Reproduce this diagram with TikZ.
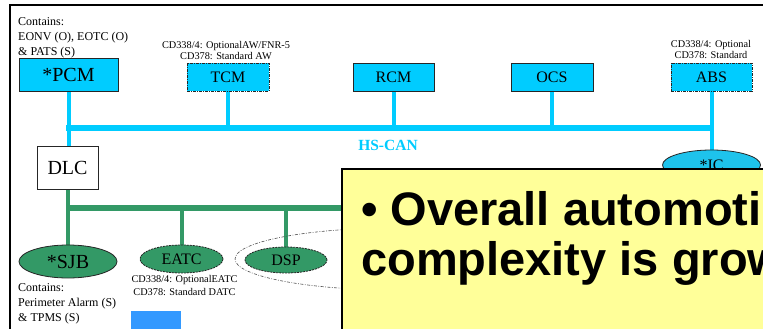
\documentclass[tikz,border=0pt]{standalone}
\usepackage{fontspec}
\setmainfont{Liberation Serif}
\newfontfamily\notefont{Liberation Sans}
\usetikzlibrary{shapes.geometric}
\pgfdeclarelayer{wires}
\pgfsetlayers{wires,main}

\definecolor{ecucyan}{HTML}{00CCFF}
\definecolor{iccyan}{HTML}{1EC3EC}
\definecolor{ecugreen}{HTML}{339966}
\definecolor{noteyellow}{HTML}{FFFF99}
\definecolor{blockblue}{HTML}{3399FF}

\tikzset{
  ecu/.style={draw=black!85, line width=0.8pt, fill=ecucyan, inner sep=0pt,
    font=\fontsize{16}{19}\selectfont},
  optbox/.style={dash pattern=on 3pt off 1pt on 1pt off 1pt},
  gecu/.style={ellipse, draw=black!85, line width=0.8pt, fill=ecugreen, inner sep=0pt,
    font=\fontsize{16}{19}\selectfont},
  optoval/.style={dash pattern=on 2pt off 1pt},
  hsbus/.style={draw=ecucyan, line width=5.5pt},
  hsstub/.style={draw=ecucyan, line width=4pt},
  msbus/.style={draw=ecugreen, line width=5.5pt},
  msstub/.style={draw=ecugreen, line width=4pt},
  contains/.style={font=\fontsize{12}{14}\selectfont, anchor=base west, inner sep=0pt},
  cdnote/.style={font=\fontsize{10.3}{12}\selectfont, anchor=base, inner sep=0pt},
  bigline/.style={font=\notefont\bfseries\fontsize{47}{51}\selectfont, anchor=base west, inner sep=0pt},
}

\begin{document}
\begin{tikzpicture}[x=1pt,y=-1pt]
\useasboundingbox (0,0) rectangle (763,329);
\clip (0,0) rectangle (763,329);

% high-speed CAN modules
\node[ecu, minimum width=99pt, minimum height=33pt, font=\fontsize{20}{24}\selectfont] (pcm) at (68.5,74.5) {*PCM};
\node[ecu, optbox, minimum width=82pt, minimum height=28pt] (tcm) at (228,77) {TCM};
\node[ecu, minimum width=81pt, minimum height=28pt] (rcm) at (393.5,77) {RCM};
\node[ecu, minimum width=82pt, minimum height=28pt] (ocs) at (552,77) {OCS};
\node[ecu, optbox, minimum width=81pt, minimum height=28pt] (abs) at (711.5,77) {ABS};

% module notes
\node[contains] (pcmc1) at (18,26) {Contains:};
\node[contains] (pcmc2) at (18,41) {EONV (O), EOTC (O)};
\node[contains] (pcmc3) at (18,55.5) {\& PATS (S)};
\node[cdnote] (tcmn1) at (226,48.5) {CD338/4: OptionalAW/FNR-5};
\node[cdnote] (tcmn2) at (226,59.5) {CD378: Standard AW};
\node[cdnote] (absn1) at (711,48) {CD338/4: Optional};
\node[cdnote] (absn2) at (711,59) {CD378: Standard};

% diagnostic connector
\node[draw=black!85, line width=0.8pt, fill=white, inner sep=0pt, minimum width=61pt, minimum height=43pt,
  font=\fontsize{20}{24}\selectfont] (dlc) at (67.5,167.5) {DLC};

\node[font=\fontsize{15.5}{18}\selectfont\bfseries, text=ecucyan, inner sep=0pt] (hscan) at (388,145) {HS-CAN};

% medium-speed CAN modules
\node[ellipse, draw=black!70, line width=0.6pt, dash pattern=on 3pt off 1.5pt on 0.8pt off 1.5pt,
  minimum width=320pt, minimum height=62pt] (grp) at (395,259) {};
\node[gecu, minimum width=98pt, minimum height=33pt, font=\fontsize{20}{24}\selectfont] (sjb) at (68,261.5) {*SJB};
\node[gecu, optoval, minimum width=83pt, minimum height=28pt] (eatc) at (181.5,259) {EATC};
\node[gecu, optoval, minimum width=82pt, minimum height=26pt] (dsp) at (286,260) {DSP};

\node[contains] (sjbc1) at (18,291) {Contains:};
\node[contains] (sjbc2) at (18,306) {Perimeter Alarm (S)};
\node[contains] (sjbc3) at (18,321) {\& TPMS (S)};
\node[cdnote] (eatcn1) at (184.5,282.5) {CD338/4: OptionalEATC};
\node[cdnote] (eatcn2) at (184.5,295.5) {CD378: Standard DATC};

\node[ellipse, draw=black!85, line width=0.8pt, fill=iccyan, inner sep=0pt,
  minimum width=98pt, minimum height=30pt, font=\fontsize{16}{19}\selectfont] (ic) at (711.5,165) {*IC};

\node[fill=blockblue, inner sep=0pt, anchor=north west, minimum width=50pt, minimum height=25pt] (blk) at (131,311) {};

% page, frame and bus wiring underneath the modules
\begin{pgfonlayer}{wires}
  \fill[white] (0,0) rectangle (763,329);
  \draw[line width=2pt] (10,345) -- (10,5) -- (780,5);

  \coordinate (hsW) at (66,128);
  \coordinate (hsE) at (713.5,128);
  \draw[hsbus] (hsW) -- (hsE);
  \draw[hsstub] (pcm.south) -- (pcm.south |- dlc.north);
  \draw[hsstub] (tcm.south) -- (tcm.south |- hsW);
  \draw[hsstub] (rcm.south) -- (rcm.south |- hsW);
  \draw[hsstub] (ocs.south) -- (ocs.south |- hsW);
  \draw[hsstub] (abs.south) -- (abs.south |- ic.north);

  \coordinate (msW) at (66,208);
  \coordinate (msE) at (420,208);
  \draw[msbus] (msW) -- (msE);
  \draw[msstub] (dlc.south) -- (dlc.south |- sjb.north);
  \draw[msstub] (eatc.north |- msW) -- (eatc.north);
  \draw[msstub] (dsp.north |- msW) -- (dsp.north);
\end{pgfonlayer}

% call-out box
\node[draw=black, line width=2pt, fill=noteyellow, anchor=north west, inner sep=0pt,
  minimum width=500pt, minimum height=200pt] (callout) at (341,168) {};
\node[bigline] (line1) at (361,225) {• Overall automoti};
\node[bigline] (line2) at (361,275.5) {complexity is grow};
\end{tikzpicture}
\end{document}
